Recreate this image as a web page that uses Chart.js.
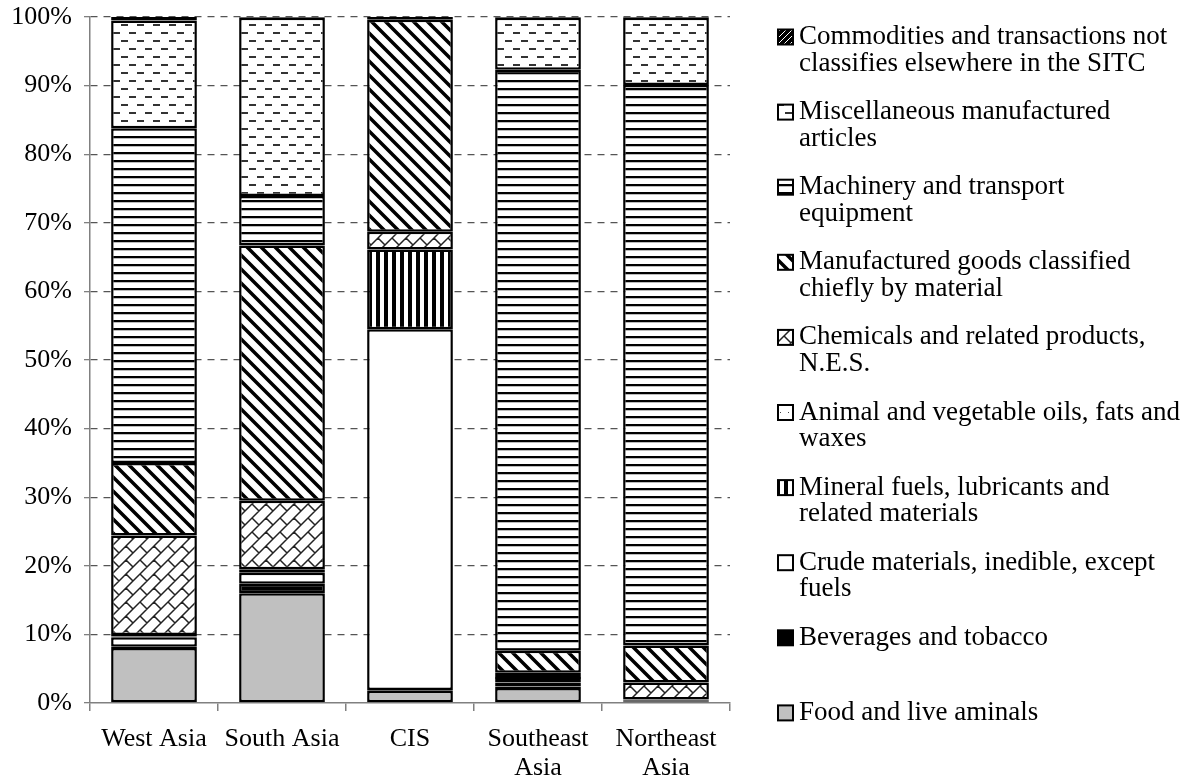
<!DOCTYPE html>
<html>
<head>
<meta charset="utf-8">
<script src="https://cdn.jsdelivr.net/npm/chart.js@4.4.0/dist/chart.umd.min.js"></script>
<style>
  html, body { margin: 0; background: #fff; }
  #wrap { width: 1189px; height: 780px; position: relative; }
</style>
</head>
<body>
<div id="wrap"><canvas id="c"></canvas></div>
<script>
// categories
const regions = ['West Asia', 'South Asia', 'CIS', ['Southeast', 'Asia'], ['Northeast', 'Asia']];

// shares of exports, % (stacked from the bottom up)
const food         = [8.0, 16.0, 1.8, 2.2, 0.2];
const beverages    = [0.2, 1.4, 0.1, 0.2, 0.1];
const crude        = [1.4, 1.6, 52.6, 0.6, 0.1];
const mineral      = [0.1, 0.4, 11.6, 0.5, 0.1];
const animalOils   = [0.2, 0.1, 0.0, 0.3, 0.0];
const chemicals    = [14.5, 10.0, 2.6, 0.6, 2.5];
const manufactured = [10.6, 37.2, 30.9, 3.2, 5.4];
const machinery    = [48.8, 7.2, 0.0, 84.7, 81.7];
const miscArticles = [15.7, 26.0, 0.0, 7.6, 9.8];
const commodities  = [0.5, 0.1, 0.4, 0.1, 0.1];

const legendLines = [
  ['Food and live aminals'],
  ['Beverages and tobacco'],
  ['Crude materials, inedible, except', 'fuels'],
  ['Mineral fuels, lubricants and', 'related materials'],
  ['Animal and vegetable oils, fats and', 'waxes'],
  ['Chemicals and related products,', 'N.E.S.'],
  ['Manufactured goods classified', 'chiefly by material'],
  ['Machinery and transport', 'equipment'],
  ['Miscellaneous manufactured', 'articles'],
  ['Commodities and transactions not', 'classifies elsewhere in the SITC']
];

const series = [food, beverages, crude, mineral, animalOils, chemicals, manufactured, machinery, miscArticles, commodities];
const FONT = '"Liberation Serif", "DejaVu Serif", serif';

const ctx = document.getElementById('c').getContext('2d');

function tile(w, h, draw, bg) {
  const c = document.createElement('canvas');
  c.width = w; c.height = h;
  const g = c.getContext('2d');
  g.fillStyle = bg || '#fff';
  g.fillRect(0, 0, w, h);
  draw(g, w, h);
  return ctx.createPattern(c, 'repeat');
}

const mineralFill = tile(8, 8, g => { g.fillStyle = '#000'; g.fillRect(0, 0, 4, 8); });
const animalFill = tile(8, 8, g => { g.fillStyle = '#444'; g.fillRect(4, 4, 1, 1); });
const chemFill = tile(28, 28, g => {
  g.strokeStyle = '#222'; g.lineWidth = 1.5;
  g.beginPath();
  for (let c = 0; c <= 56; c += 14) { g.moveTo(c + 2, -2); g.lineTo(-2, c + 2); }
  for (let k = -2; k <= 5; k++) {
    for (let j = -4; j <= 4; j++) {
      const s = 14 * j + (Math.abs(k) % 2 ? 7 : 0);
      const px = 7 * k + s, py = 7 * k - s;
      g.moveTo(px, py); g.lineTo(px + 7, py + 7);
    }
  }
  g.stroke();
});
const manufFill = tile(14, 14, g => {
  g.strokeStyle = '#000'; g.lineWidth = 3.5;
  g.beginPath();
  for (let k = -1; k <= 1; k++) { g.moveTo(k * 14 - 2, -2); g.lineTo(k * 14 + 16, 16); }
  g.stroke();
});
const machFill = tile(8, 8, g => {
  g.fillStyle = '#000'; g.fillRect(0, 0, 8, 2);
  g.fillStyle = '#bbb'; g.fillRect(0, 2, 8, 1);
});
const miscFill = tile(16, 16, g => {
  g.fillStyle = '#333';
  g.fillRect(1, 0, 7, 2);
  g.fillRect(9, 8, 7, 2);
});
const commFill = tile(6, 6, g => {
  g.strokeStyle = '#fff'; g.lineWidth = 1;
  g.beginPath(); g.moveTo(-1, 7); g.lineTo(7, -1); g.stroke();
}, '#000');

const fills = ['#c0c0c0', '#000', '#fff', mineralFill, animalFill, chemFill, manufFill, machFill, miscFill, commFill];

const sideLegend = {
  id: 'sideLegend',
  afterDraw(chart) {
    const c = chart.ctx;
    c.save();
    c.font = '27px ' + FONT;
    c.textBaseline = 'middle';
    c.textAlign = 'left';
    for (let r = 0; r < 10; r++) {
      const i = 9 - r;
      const y = 37 + r * 75.1;
      c.fillStyle = fills[i];
      c.fillRect(778, y - 7.5, 15, 15);
      c.strokeStyle = '#000';
      c.lineWidth = 2;
      c.strokeRect(778, y - 7.5, 15, 15);
      c.fillStyle = '#000';
      legendLines[i].forEach((t, n) => c.fillText(t, 799, y + n * 26.7));
    }
    c.restore();
  }
};

new Chart(ctx, {
  type: 'bar',
  data: {
    labels: regions,
    datasets: series.map((d, i) => ({
      label: legendLines[i].join(' '),
      data: d,
      backgroundColor: fills[i],
      borderColor: '#000',
      borderWidth: 2.5,
      borderSkipped: false,
      barPercentage: 0.67,
      categoryPercentage: 1
    }))
  },
  options: {
    responsive: true,
    maintainAspectRatio: false,
    animation: false,
    layout: { padding: { top: 17, right: 459, left: 0, bottom: 0 } },
    plugins: { legend: { display: false }, tooltip: { enabled: false } },
    scales: {
      x: {
        stacked: true,
        afterFit(s) { s.height = 77; },
        grid: { offset: true, drawOnChartArea: false, tickLength: 8, color: '#808080', lineWidth: 1.5 },
        border: { color: '#808080', width: 1.5 },
        ticks: { color: '#000', font: { family: FONT, size: 26, lineHeight: 1.1 }, padding: 14, maxRotation: 0, autoSkip: false }
      },
      y: {
        stacked: true,
        min: 0,
        max: 100,
        afterFit(s) { s.width = 90; s.paddingTop = 0; s.paddingBottom = 0; },
        grid: {
          color: c => c.tick && c.tick.value === 0 ? 'rgba(0,0,0,0)' : '#555',
          lineWidth: 1.3,
          tickLength: 6,
          tickColor: '#808080'
        },
        border: { color: '#808080', width: 1.5, dash: [7, 6] },
        ticks: { stepSize: 10, padding: 12, color: '#000', font: { family: FONT, size: 26 }, callback: v => v + '%' }
      }
    }
  },
  plugins: [sideLegend]
});
</script>
</body>
</html>
